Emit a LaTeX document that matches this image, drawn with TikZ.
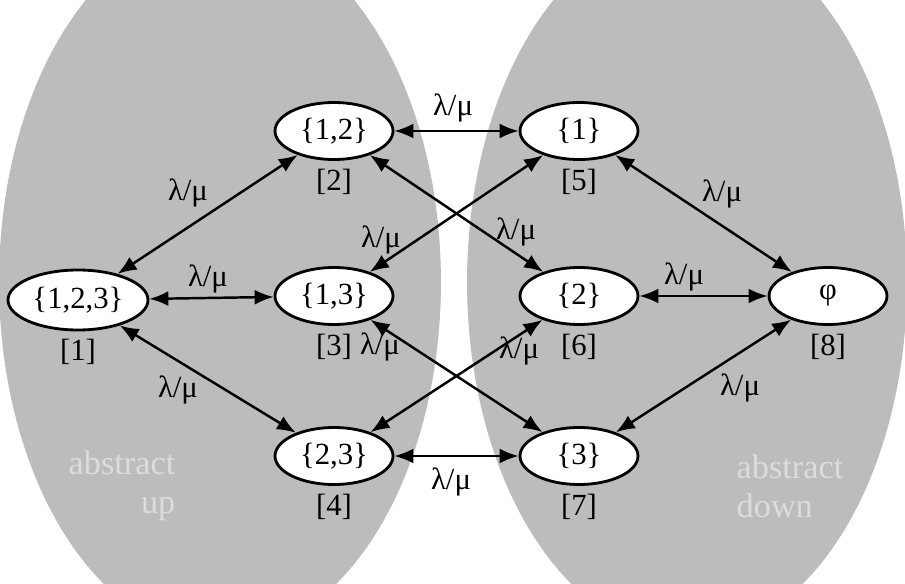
\documentclass[tikz,border=0pt]{standalone}
\usepackage{fontspec}
\setmainfont{Liberation Serif}
\usetikzlibrary{positioning,shapes.geometric,arrows.meta}
\definecolor{ShadeGray}{RGB}{188,188,188}
\definecolor{WordGray}{RGB}{220,220,220}

\begin{document}
\begin{tikzpicture}[x=0.02cm,y=-0.02cm,
      font=\fontsize{17.5}{21}\selectfont,
      state/.style={draw,ellipse,fill=white,line width=1.6pt,inner sep=0pt,
                    minimum width=2.36cm,minimum height=1.14cm},
      tag/.style={inner sep=2pt},
      rate/.style={inner sep=1pt},
      link/.style={{Latex[length=3.8mm,width=3mm]}-{Latex[length=3.8mm,width=3mm]},
                   line width=1.4pt},
      word/.style={text=WordGray,inner sep=0pt,font=\fontsize{19.5}{22}\selectfont}]
    \useasboundingbox (0,0) rectangle (905,584);
    % the two shaded groups
    \fill[ShadeGray] (220,282) ellipse [x radius=4.42cm, y radius=7.1cm];
    \fill[ShadeGray] (687,282) ellipse [x radius=4.4cm, y radius=7.1cm];
    \node[word,align=right] (up) at (122,486) {abstract\\up};
    \node[word,align=left] (down) at (790,486) {abstract\\down};
    % states
    \node[state,minimum width=2.8cm,minimum height=1.2cm] (s123) at (78,300) {\{1,2,3\}};
    \node[state] (s12) at (334,131) {\{1,2\}};
    \node[state] (s13) at (334,296) {\{1,3\}};
    \node[state] (s23) at (334,456) {\{2,3\}};
    \node[state] (s1) at (579,131) {\{1\}};
    \node[state] (s2) at (579,296) {\{2\}};
    \node[state] (s3) at (579,456) {\{3\}};
    \node[state] (s0) at (828,296) {φ};
    \node[tag,below=0.8mm of s123] (t1) {[1]};
    \node[tag,below=0.8mm of s12] (t2) {[2]};
    \node[tag,below=0.8mm of s13] (t3) {[3]};
    \node[tag,below=0.8mm of s23] (t4) {[4]};
    \node[tag,below=0.8mm of s1] (t5) {[5]};
    \node[tag,below=0.8mm of s2] (t6) {[6]};
    \node[tag,below=0.8mm of s3] (t7) {[7]};
    \node[tag,below=0.8mm of s0] (t8) {[8]};
    % transitions
    \draw[link] (s123) -- (s12);
    \draw[link] (s123) -- (s13);
    \draw[link] (s123) -- (s23);
    \draw[link] (s12) -- (s1);
    \draw[link] (s12) -- (s2);
    \draw[link] (s13) -- (s1);
    \draw[link] (s13) -- (s3);
    \draw[link] (s23) -- (s2);
    \draw[link] (s23) -- (s3);
    \draw[link] (s1) -- (s0);
    \draw[link] (s2) -- (s0);
    \draw[link] (s3) -- (s0);
    \node[rate] (r12) at (188,193) {λ/μ};
    \node[rate] (r13) at (208,279) {λ/μ};
    \node[rate] (r14) at (178,390) {λ/μ};
    \node[rate] (r25) at (453,108) {λ/μ};
    \node[rate] (r35) at (381,240) {λ/μ};
    \node[rate] (r26) at (516,232) {λ/μ};
    \node[rate] (r37) at (380,347) {λ/μ};
    \node[rate] (r46) at (519,351) {λ/μ};
    \node[rate] (r47) at (451,482) {λ/μ};
    \node[rate] (r58) at (722,194) {λ/μ};
    \node[rate] (r68) at (684,277) {λ/μ};
    \node[rate] (r78) at (740,388) {λ/μ};
\end{tikzpicture}
\end{document}
